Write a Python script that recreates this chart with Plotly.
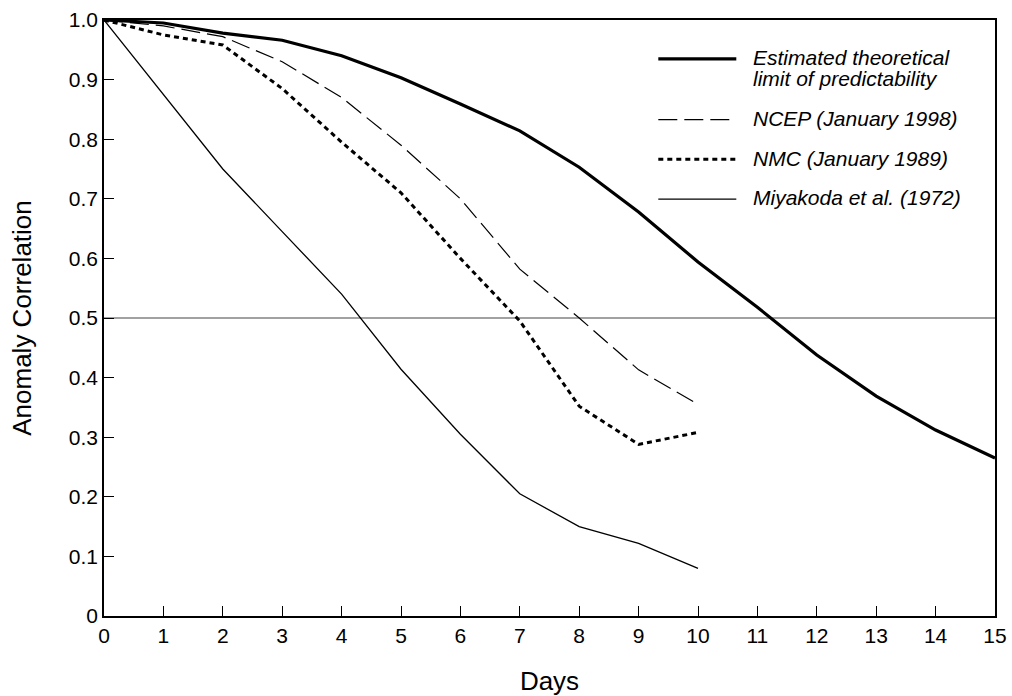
import plotly.graph_objects as go

days_limit = list(range(0, 16))
limit_vals = [1.0, 0.995, 0.978, 0.966, 0.94, 0.903, 0.859, 0.814, 0.753, 0.678, 0.594, 0.518, 0.438, 0.369, 0.312, 0.265]

days_fc = list(range(0, 11))
ncep_vals = [1.0, 0.99, 0.972, 0.93, 0.87, 0.79, 0.70, 0.582, 0.50, 0.413, 0.355]
nmc_vals = [1.0, 0.975, 0.958, 0.885, 0.795, 0.71, 0.60, 0.495, 0.352, 0.288, 0.308]
miya_vals = [1.0, 0.875, 0.75, 0.645, 0.54, 0.414, 0.305, 0.205, 0.15, 0.122, 0.08]

ref_level = 0.5

x_ticks = list(range(0, 16))
y_ticks = [0, 0.1, 0.2, 0.3, 0.4, 0.5, 0.6, 0.7, 0.8, 0.9, 1.0]
y_ticktext = ["0", "0.1", "0.2", "0.3", "0.4", "0.5", "0.6", "0.7", "0.8", "0.9", "1.0"]

series_labels = [
    ["Estimated theoretical", "limit of predictability"],
    ["NCEP (January 1998)"],
    ["NMC (January 1989)"],
    ["Miyakoda et al. (1972)"],
]

PAD = "\u00a0\u00a0"


def legend_name(lines):
    return "<br>".join(
        '<span style="font-size:21px"><i>' + PAD + ln + "</i></span>" for ln in lines
    )


names = [legend_name(l) for l in series_labels]

FONT = "Liberation Sans, Arial, Helvetica, sans-serif"

fig = go.Figure()
fig.add_trace(go.Scatter(x=days_limit, y=limit_vals, mode="lines", name=names[0],
                         legendgroup="a", line=dict(color="black", width=3.2)))
fig.add_trace(go.Scatter(x=days_fc, y=ncep_vals, mode="lines", name=names[1],
                         legendgroup="b", line=dict(color="black", width=1.2, dash="19px,7px")))
fig.add_trace(go.Scatter(x=days_fc, y=nmc_vals, mode="lines", name=names[2],
                         legendgroup="c", line=dict(color="black", width=3, dash="5px,4px")))
fig.add_trace(go.Scatter(x=days_fc, y=miya_vals, mode="lines", name=names[3],
                         legendgroup="d", line=dict(color="black", width=1.3)))

fig.add_shape(type="line", xref="paper", x0=0, x1=1, yref="y", y0=ref_level, y1=ref_level,
              line=dict(color="#444", width=1.2), layer="below")

fig.update_layout(
    width=1012, height=696,
    margin=dict(l=104, r=17, t=20, b=80),
    paper_bgcolor="white", plot_bgcolor="white",
    font=dict(family=FONT, color="black", size=21),
    showlegend=True,
    legend=dict(x=0.6165, y=0.963, xanchor="left", yanchor="top",
                bgcolor="rgba(0,0,0,0)", borderwidth=0, valign="top",
                font=dict(size=16, family=FONT), itemwidth=78,
                tracegroupgap=16),
    xaxis=dict(range=[0, 15], tickvals=x_ticks, ticks="inside", ticklen=10,
               tickwidth=1.2, tickcolor="black", showgrid=False, zeroline=False,
               showline=True, linecolor="black", linewidth=1.5, mirror=True,
               automargin=False, ticklabeloverflow="allow",
               title=dict(text="Days", font=dict(size=26), standoff=28),
               tickfont=dict(size=21)),
    yaxis=dict(range=[0, 1.0], tickvals=y_ticks, ticktext=y_ticktext, ticks="inside",
               ticklen=10, tickwidth=1.2, tickcolor="black", showgrid=False,
               zeroline=False, showline=True, linecolor="black", linewidth=1.5,
               mirror=True, automargin=False, ticklabeloverflow="allow",
               title=dict(text="Anomaly Correlation", font=dict(size=26), standoff=30),
               tickfont=dict(size=21)),
)

fig.write_html("out.html", config={"displayModeBar": False},
               post_script="document.body.style.margin='0px';")
